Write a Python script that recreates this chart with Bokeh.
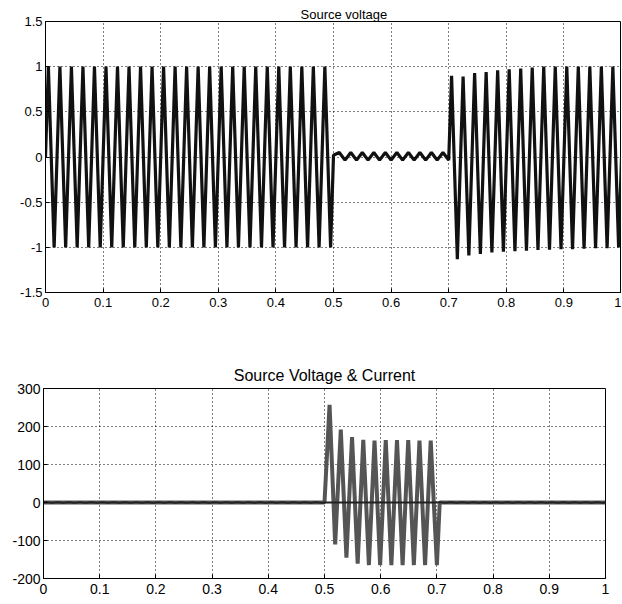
from bokeh.plotting import figure
from bokeh.models import Range1d, FixedTicker, CustomJSTickFormatter
from bokeh.embed import file_html
from bokeh.resources import INLINE

# ---------------- data ----------------
# Source voltage: extremum samples (time in s, value in p.u.)
volt_time = [
    0.000, 0.005, 0.015, 0.025, 0.035, 0.045, 0.055, 0.065, 0.075, 0.085, 0.095,
    0.105, 0.115, 0.125, 0.135, 0.145, 0.155, 0.165, 0.175, 0.185, 0.195,
    0.205, 0.215, 0.225, 0.235, 0.245, 0.255, 0.265, 0.275, 0.285, 0.295,
    0.305, 0.315, 0.325, 0.335, 0.345, 0.355, 0.365, 0.375, 0.385, 0.395,
    0.405, 0.415, 0.425, 0.435, 0.445, 0.455, 0.465, 0.475, 0.485, 0.495,
    0.500, 0.510, 0.520, 0.530, 0.540, 0.550, 0.560, 0.570, 0.580, 0.590,
    0.600, 0.610, 0.620, 0.630, 0.640, 0.650, 0.660, 0.670, 0.680, 0.690, 0.700,
    0.705, 0.715, 0.725, 0.735, 0.745, 0.755, 0.765, 0.775, 0.785, 0.795,
    0.805, 0.815, 0.825, 0.835, 0.845, 0.855, 0.865, 0.875, 0.885, 0.895,
    0.905, 0.915, 0.925, 0.935, 0.945, 0.955, 0.965, 0.975, 0.985, 0.995, 1.000,
]
volt_value = [
    0.00, 1.00, -1.00, 1.00, -1.00, 1.00, -1.00, 1.00, -1.00, 1.00, -1.00,
    1.00, -1.00, 1.00, -1.00, 1.00, -1.00, 1.00, -1.00, 1.00, -1.00,
    1.00, -1.00, 1.00, -1.00, 1.00, -1.00, 1.00, -1.00, 1.00, -1.00,
    1.00, -1.00, 1.00, -1.00, 1.00, -1.00, 1.00, -1.00, 1.00, -1.00,
    1.00, -1.00, 1.00, -1.00, 1.00, -1.00, 1.00, -1.00, 1.00, -1.00,
    0.02, 0.05, -0.035, 0.05, -0.035, 0.05, -0.035, 0.05, -0.035, 0.05,
    -0.035, 0.05, -0.035, 0.05, -0.035, 0.05, -0.035, 0.05, -0.035, 0.05, -0.035,
    0.90, -1.13, 0.89, -1.09, 0.93, -1.074, 0.94, -1.056, 0.96, -1.048,
    0.97, -1.044, 0.98, -1.037, 0.99, -1.03, 1.00, -1.026, 1.00, -1.022,
    1.00, -1.02, 1.00, -1.015, 1.00, -1.01, 1.00, -1.01, 1.00, -1.00, 0.00,
]

# Source current: extremum samples (time in s, value in A)
cur_time = [0.000, 0.500, 0.509, 0.519, 0.529, 0.539, 0.549, 0.559, 0.569, 0.579,
            0.589, 0.599, 0.609, 0.619, 0.629, 0.639, 0.649, 0.659, 0.669, 0.679,
            0.689, 0.700, 0.705, 1.000]
cur_value = [0, 0, 257, -110, 192, -145, 172, -161, 165, -165,
             163, -165, 164, -165, 164, -165, 164, -165, 163, -165,
             163, -165, 0, 0]

# tick labels
x_ticks = [0, 0.1, 0.2, 0.3, 0.4, 0.5, 0.6, 0.7, 0.8, 0.9, 1]
y_ticks_top = [-1.5, -1, -0.5, 0, 0.5, 1, 1.5]
y_ticks_bot = [-200, -100, 0, 100, 200, 300]

FONT = "Liberation Sans"


def style(p, yt, fs):
    p.xaxis.ticker = FixedTicker(ticks=x_ticks)
    p.yaxis.ticker = FixedTicker(ticks=yt)
    for ax in (p.xaxis[0], p.yaxis[0]):
        ax.formatter = CustomJSTickFormatter(code="return String(Math.round(tick*100)/100);")
        ax.major_label_text_font = FONT
        ax.major_label_text_font_size = fs
        ax.major_label_text_color = "black"
        ax.axis_line_color = "black"
        ax.axis_line_width = 1
        ax.major_tick_line_color = "black"
        ax.major_tick_in = 4
        ax.major_tick_out = 0
        ax.minor_tick_line_color = None
    p.xaxis.major_label_standoff = 5
    p.yaxis.major_label_standoff = 3
    p.grid.grid_line_color = "black"
    p.grid.grid_line_dash = "1 3"
    p.grid.grid_line_width = 1
    p.grid.grid_line_alpha = 1.0
    p.outline_line_color = "black"
    p.outline_line_width = 1
    p.outline_line_alpha = 1
    p.background_fill_color = "white"
    p.border_fill_color = "white"
    p.title.text_font = FONT
    p.title.text_font_style = "normal"
    p.title.text_color = "black"


# ---------------- top plot ----------------
p1 = figure(width=621, height=330, output_backend="svg", toolbar_location=None,
            x_range=Range1d(0, 1), y_range=Range1d(-1.5, 1.5),
            min_border_left=45, min_border_right=0, min_border_top=21,
            min_border_bottom=38, title="Source voltage")
style(p1, y_ticks_top, "13px")
p1.title.text_font_size = "13px"
p1.title.align = "left"
p1.title.offset = 255
p1.title.standoff = 0
p1.line(volt_time, volt_value, line_color="#111111", line_width=3.2)

# ---------------- bottom plot ----------------
p2 = figure(width=621, height=272, output_backend="svg", toolbar_location=None,
            x_range=Range1d(0, 1), y_range=Range1d(-200, 300),
            min_border_left=43, min_border_right=16, min_border_top=58,
            min_border_bottom=24, title="Source Voltage & Current")
style(p2, y_ticks_bot, "14px")
p2.title.text_font_size = "16px"
p2.title.align = "center"
p2.title.standoff = 9
p2.line(cur_time, cur_value, line_color="#555555", line_width=4)
p2.line(volt_time, volt_value, line_color="#222222", line_width=1.8)

open("out.html", "w").write(file_html([p1, p2], INLINE))
